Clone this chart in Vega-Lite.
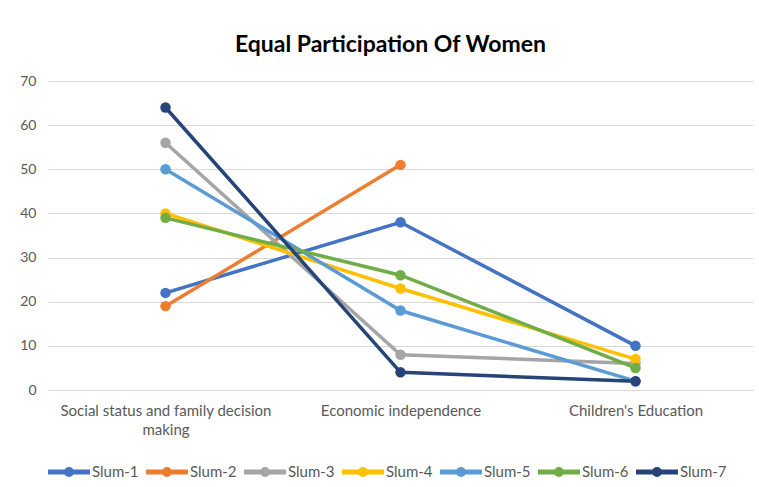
{
  "$schema": "https://vega.github.io/schema/vega-lite/v6.json",
  "width": 705,
  "height": 309,
  "autosize": {"type": "none"},
  "padding": {"left": 48, "top": 81, "right": 6, "bottom": 97},
  "background": "white",
  "title": {
    "text": "Equal Participation Of Women",
    "font": "Lato",
    "fontSize": 23,
    "fontWeight": "bold",
    "color": "#000000",
    "anchor": "middle",
    "offset": 17,
    "dx": -10
  },
  "config": {
    "font": "Lato",
    "view": {"stroke": null},
    "axis": {"labelColor": "#595959", "labelFont": "Lato", "labelFontSize": 15, "labelLimit": 0, "gridColor": "#D9D9D9", "domainColor": "#D9D9D9", "ticks": false, "title": null}
  },
  "data": {
    "values": [
      {"cat": "Social status and family decision making", "slum": "Slum-1", "v": 22},
      {"cat": "Economic independence", "slum": "Slum-1", "v": 38},
      {"cat": "Children's Education", "slum": "Slum-1", "v": 10},
      {"cat": "Social status and family decision making", "slum": "Slum-2", "v": 19},
      {"cat": "Economic independence", "slum": "Slum-2", "v": 51},
      {"cat": "Social status and family decision making", "slum": "Slum-3", "v": 56},
      {"cat": "Economic independence", "slum": "Slum-3", "v": 8},
      {"cat": "Children's Education", "slum": "Slum-3", "v": 6},
      {"cat": "Social status and family decision making", "slum": "Slum-4", "v": 40},
      {"cat": "Economic independence", "slum": "Slum-4", "v": 23},
      {"cat": "Children's Education", "slum": "Slum-4", "v": 7},
      {"cat": "Social status and family decision making", "slum": "Slum-5", "v": 50},
      {"cat": "Economic independence", "slum": "Slum-5", "v": 18},
      {"cat": "Children's Education", "slum": "Slum-5", "v": 2},
      {"cat": "Social status and family decision making", "slum": "Slum-6", "v": 39},
      {"cat": "Economic independence", "slum": "Slum-6", "v": 26},
      {"cat": "Children's Education", "slum": "Slum-6", "v": 5},
      {"cat": "Social status and family decision making", "slum": "Slum-7", "v": 64},
      {"cat": "Economic independence", "slum": "Slum-7", "v": 4},
      {"cat": "Children's Education", "slum": "Slum-7", "v": 2}
    ]
  },
  "mark": {"type": "line", "strokeWidth": 3.5, "point": {"filled": true, "size": 110}},
  "encoding": {
    "x": {
      "field": "cat",
      "type": "nominal",
      "sort": null,
      "scale": {"paddingInner": 0, "paddingOuter": 0.5},
      "axis": {
        "labelAngle": 0,
        "labelPadding": 13,
        "grid": false,
        "domain": true,
        "labelLineHeight": 19,
        "labelExpr": "datum.value == 'Social status and family decision making' ? ['Social status and family decision', 'making'] : datum.value"
      }
    },
    "y": {
      "field": "v",
      "type": "quantitative",
      "scale": {"domain": [0, 70]},
      "axis": {"values": [0, 10, 20, 30, 40, 50, 60, 70], "domain": false, "labelPadding": 12, "labelFontSize": 14}
    },
    "color": {
      "field": "slum",
      "type": "nominal",
      "scale": {
        "domain": ["Slum-1", "Slum-2", "Slum-3", "Slum-4", "Slum-5", "Slum-6", "Slum-7"],
        "range": ["#4472C4", "#ED7D31", "#A5A5A5", "#FFC000", "#5B9BD5", "#70AD47", "#264478"]
      },
      "legend": {
        "orient": "bottom",
        "direction": "horizontal",
        "title": null,
        "labelFont": "Lato",
        "labelFontSize": 15,
        "labelColor": "#595959",
        "symbolType": "M-1,-0.075 L1,-0.075 L1,0.075 L-1,0.075 Z M0.2,0 A0.2,0.2 0 1,1 -0.2,0 A0.2,0.2 0 1,1 0.2,0 Z",
        "symbolSize": 1600,
        "symbolStrokeWidth": 2,
        "labelOffset": 2,
        "columnPadding": 4,
        "offset": 14
      }
    },
    "order": {"field": "slum"}
  }
}
